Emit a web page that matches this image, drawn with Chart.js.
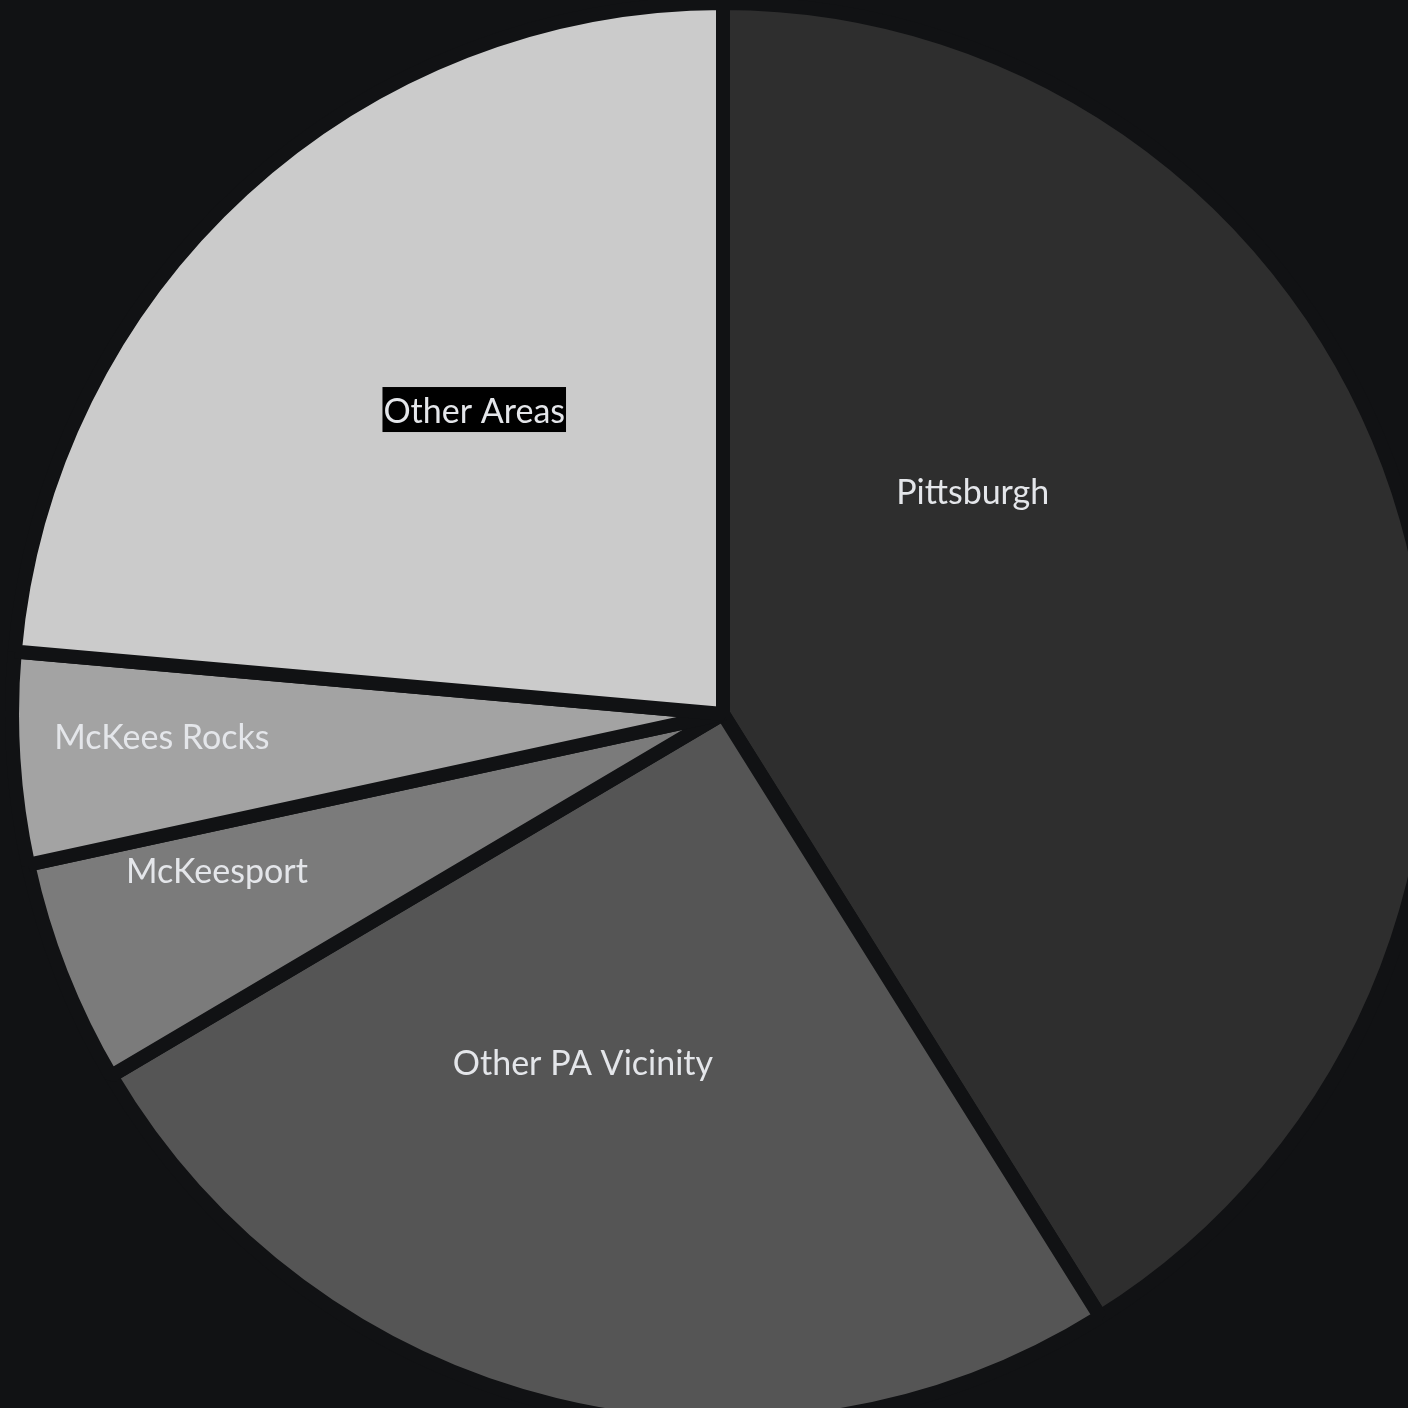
<!DOCTYPE html>
<html>
<head>
<meta charset="utf-8">
<script src="https://cdn.jsdelivr.net/npm/chart.js@4.4.1/dist/chart.umd.min.js"></script>
<style>
    html, body {
        margin: 0;
        padding: 0;
        width: 1408px;
        height: 1408px;
        overflow: hidden;
        background: #111214;
    }
    #areaChart {
        position: absolute;
        left: 5px;
        top: -4px;
    }
</style>
</head>
<body>
<canvas id="areaChart" width="1436" height="1436"></canvas>
<script>
    // Share of records by area (percent), clockwise from 12 o'clock
    const areas = ['Pittsburgh', 'Other PA Vicinity', 'McKeesport', 'McKees Rocks', 'Other Areas'];
    const shares = [41.1, 25.4, 5.1, 4.8, 23.6];
    const sliceColors = ['#2e2e2e', '#555555', '#7b7b7b', '#a3a3a3', '#cbcbcb'];

    // Where each name sits inside its slice: fraction along the arc, fraction of the radius
    const labelSpots = [[0.33, 0.476], [0.587, 0.545], [0.705, 0.762], [0.55, 0.806], [0.532, 0.558]];
    const boxedLabel = 'Other Areas';

    const bgColor = '#111214';

    // Writes the area names onto the slices
    const sliceLabels = {
        id: 'sliceLabels',
        afterDatasetsDraw(chart) {
            const ctx = chart.ctx;
            const arcs = chart.getDatasetMeta(0).data;
            ctx.save();
            ctx.font = '34px Lato, "Noto Sans", sans-serif';
            ctx.textAlign = 'center';
            ctx.textBaseline = 'middle';
            arcs.forEach((arc, i) => {
                const p = arc.getProps(['x', 'y', 'startAngle', 'endAngle', 'outerRadius'], true);
                const [t, f] = labelSpots[i];
                const angle = p.startAngle + t * (p.endAngle - p.startAngle);
                const r = f * (p.outerRadius - 14);
                const x = p.x + Math.cos(angle) * r;
                const y = p.y + Math.sin(angle) * r - 5;
                const text = chart.data.labels[i];
                if (text === boxedLabel) {
                    const w = ctx.measureText(text).width;
                    ctx.fillStyle = '#000000';
                    ctx.fillRect(x - w / 2 - 1, y - 23, w + 2, 45);
                }
                ctx.fillStyle = '#e4e6ea';
                ctx.fillText(text, x, y + 2);
            });
            ctx.restore();
        }
    };

    new Chart(document.getElementById('areaChart'), {
        type: 'pie',
        data: {
            labels: areas,
            datasets: [{
                data: shares,
                backgroundColor: sliceColors,
                borderColor: bgColor,
                borderWidth: 14
            }]
        },
        options: {
            responsive: false,
            animation: false,
            layout: { padding: 0 },
            plugins: {
                legend: { display: false },
                tooltip: { enabled: false }
            }
        },
        plugins: [sliceLabels]
    });
</script>
</body>
</html>
